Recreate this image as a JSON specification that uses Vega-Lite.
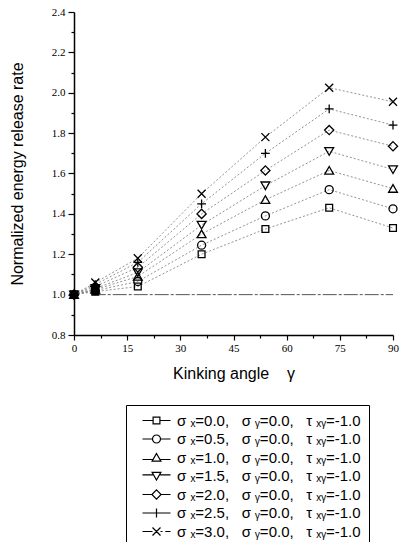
{
  "$schema": "https://vega.github.io/schema/vega-lite/v6.json",
  "width": 319,
  "height": 323,
  "autosize": {"type": "none"},
  "padding": {"left": 74, "top": 12, "right": 8, "bottom": 207},
  "background": "white",
  "config": {
    "view": {"stroke": null},
    "axis": {
      "domainColor": "black", "domainWidth": 1.5,
      "tickColor": "black", "tickWidth": 1.2,
      "labelColor": "black", "titleColor": "black", "grid": false,
      "labelFont": "Liberation Serif", "labelFontSize": 11,
      "titleFont": "Liberation Sans", "titleFontSize": 16, "titleFontWeight": "normal"
    }
  },
  "datasets": {
    "ref": [{"g": 5, "g2": 90, "v": 1.0}],
    "pts": [
      {"g": 0, "v": 1.0, "s": "σ\u00a0ₓ=0.0,\u00a0\u00a0\u00a0σ\u00a0ᵧ=0.0,\u00a0\u00a0\u00a0τ\u00a0ₓᵧ=-1.0"},
      {"g": 6, "v": 1.015, "s": "σ\u00a0ₓ=0.0,\u00a0\u00a0\u00a0σ\u00a0ᵧ=0.0,\u00a0\u00a0\u00a0τ\u00a0ₓᵧ=-1.0"},
      {"g": 18, "v": 1.04, "s": "σ\u00a0ₓ=0.0,\u00a0\u00a0\u00a0σ\u00a0ᵧ=0.0,\u00a0\u00a0\u00a0τ\u00a0ₓᵧ=-1.0"},
      {"g": 36, "v": 1.2, "s": "σ\u00a0ₓ=0.0,\u00a0\u00a0\u00a0σ\u00a0ᵧ=0.0,\u00a0\u00a0\u00a0τ\u00a0ₓᵧ=-1.0"},
      {"g": 54, "v": 1.325, "s": "σ\u00a0ₓ=0.0,\u00a0\u00a0\u00a0σ\u00a0ᵧ=0.0,\u00a0\u00a0\u00a0τ\u00a0ₓᵧ=-1.0"},
      {"g": 72, "v": 1.43, "s": "σ\u00a0ₓ=0.0,\u00a0\u00a0\u00a0σ\u00a0ᵧ=0.0,\u00a0\u00a0\u00a0τ\u00a0ₓᵧ=-1.0"},
      {"g": 90, "v": 1.33, "s": "σ\u00a0ₓ=0.0,\u00a0\u00a0\u00a0σ\u00a0ᵧ=0.0,\u00a0\u00a0\u00a0τ\u00a0ₓᵧ=-1.0"},
      {"g": 0, "v": 1.0, "s": "σ\u00a0ₓ=0.5,\u00a0\u00a0\u00a0σ\u00a0ᵧ=0.0,\u00a0\u00a0\u00a0τ\u00a0ₓᵧ=-1.0"},
      {"g": 6, "v": 1.02, "s": "σ\u00a0ₓ=0.5,\u00a0\u00a0\u00a0σ\u00a0ᵧ=0.0,\u00a0\u00a0\u00a0τ\u00a0ₓᵧ=-1.0"},
      {"g": 18, "v": 1.065, "s": "σ\u00a0ₓ=0.5,\u00a0\u00a0\u00a0σ\u00a0ᵧ=0.0,\u00a0\u00a0\u00a0τ\u00a0ₓᵧ=-1.0"},
      {"g": 36, "v": 1.245, "s": "σ\u00a0ₓ=0.5,\u00a0\u00a0\u00a0σ\u00a0ᵧ=0.0,\u00a0\u00a0\u00a0τ\u00a0ₓᵧ=-1.0"},
      {"g": 54, "v": 1.39, "s": "σ\u00a0ₓ=0.5,\u00a0\u00a0\u00a0σ\u00a0ᵧ=0.0,\u00a0\u00a0\u00a0τ\u00a0ₓᵧ=-1.0"},
      {"g": 72, "v": 1.52, "s": "σ\u00a0ₓ=0.5,\u00a0\u00a0\u00a0σ\u00a0ᵧ=0.0,\u00a0\u00a0\u00a0τ\u00a0ₓᵧ=-1.0"},
      {"g": 90, "v": 1.425, "s": "σ\u00a0ₓ=0.5,\u00a0\u00a0\u00a0σ\u00a0ᵧ=0.0,\u00a0\u00a0\u00a0τ\u00a0ₓᵧ=-1.0"},
      {"g": 0, "v": 1.0, "s": "σ\u00a0ₓ=1.0,\u00a0\u00a0\u00a0σ\u00a0ᵧ=0.0,\u00a0\u00a0\u00a0τ\u00a0ₓᵧ=-1.0"},
      {"g": 6, "v": 1.025, "s": "σ\u00a0ₓ=1.0,\u00a0\u00a0\u00a0σ\u00a0ᵧ=0.0,\u00a0\u00a0\u00a0τ\u00a0ₓᵧ=-1.0"},
      {"g": 18, "v": 1.09, "s": "σ\u00a0ₓ=1.0,\u00a0\u00a0\u00a0σ\u00a0ᵧ=0.0,\u00a0\u00a0\u00a0τ\u00a0ₓᵧ=-1.0"},
      {"g": 36, "v": 1.3, "s": "σ\u00a0ₓ=1.0,\u00a0\u00a0\u00a0σ\u00a0ᵧ=0.0,\u00a0\u00a0\u00a0τ\u00a0ₓᵧ=-1.0"},
      {"g": 54, "v": 1.47, "s": "σ\u00a0ₓ=1.0,\u00a0\u00a0\u00a0σ\u00a0ᵧ=0.0,\u00a0\u00a0\u00a0τ\u00a0ₓᵧ=-1.0"},
      {"g": 72, "v": 1.615, "s": "σ\u00a0ₓ=1.0,\u00a0\u00a0\u00a0σ\u00a0ᵧ=0.0,\u00a0\u00a0\u00a0τ\u00a0ₓᵧ=-1.0"},
      {"g": 90, "v": 1.525, "s": "σ\u00a0ₓ=1.0,\u00a0\u00a0\u00a0σ\u00a0ᵧ=0.0,\u00a0\u00a0\u00a0τ\u00a0ₓᵧ=-1.0"},
      {"g": 0, "v": 1.0, "s": "σ\u00a0ₓ=1.5,\u00a0\u00a0\u00a0σ\u00a0ᵧ=0.0,\u00a0\u00a0\u00a0τ\u00a0ₓᵧ=-1.0"},
      {"g": 6, "v": 1.03, "s": "σ\u00a0ₓ=1.5,\u00a0\u00a0\u00a0σ\u00a0ᵧ=0.0,\u00a0\u00a0\u00a0τ\u00a0ₓᵧ=-1.0"},
      {"g": 18, "v": 1.11, "s": "σ\u00a0ₓ=1.5,\u00a0\u00a0\u00a0σ\u00a0ᵧ=0.0,\u00a0\u00a0\u00a0τ\u00a0ₓᵧ=-1.0"},
      {"g": 36, "v": 1.345, "s": "σ\u00a0ₓ=1.5,\u00a0\u00a0\u00a0σ\u00a0ᵧ=0.0,\u00a0\u00a0\u00a0τ\u00a0ₓᵧ=-1.0"},
      {"g": 54, "v": 1.54, "s": "σ\u00a0ₓ=1.5,\u00a0\u00a0\u00a0σ\u00a0ᵧ=0.0,\u00a0\u00a0\u00a0τ\u00a0ₓᵧ=-1.0"},
      {"g": 72, "v": 1.71, "s": "σ\u00a0ₓ=1.5,\u00a0\u00a0\u00a0σ\u00a0ᵧ=0.0,\u00a0\u00a0\u00a0τ\u00a0ₓᵧ=-1.0"},
      {"g": 90, "v": 1.62, "s": "σ\u00a0ₓ=1.5,\u00a0\u00a0\u00a0σ\u00a0ᵧ=0.0,\u00a0\u00a0\u00a0τ\u00a0ₓᵧ=-1.0"},
      {"g": 0, "v": 1.0, "s": "σ\u00a0ₓ=2.0,\u00a0\u00a0\u00a0σ\u00a0ᵧ=0.0,\u00a0\u00a0\u00a0τ\u00a0ₓᵧ=-1.0"},
      {"g": 6, "v": 1.04, "s": "σ\u00a0ₓ=2.0,\u00a0\u00a0\u00a0σ\u00a0ᵧ=0.0,\u00a0\u00a0\u00a0τ\u00a0ₓᵧ=-1.0"},
      {"g": 18, "v": 1.135, "s": "σ\u00a0ₓ=2.0,\u00a0\u00a0\u00a0σ\u00a0ᵧ=0.0,\u00a0\u00a0\u00a0τ\u00a0ₓᵧ=-1.0"},
      {"g": 36, "v": 1.4, "s": "σ\u00a0ₓ=2.0,\u00a0\u00a0\u00a0σ\u00a0ᵧ=0.0,\u00a0\u00a0\u00a0τ\u00a0ₓᵧ=-1.0"},
      {"g": 54, "v": 1.615, "s": "σ\u00a0ₓ=2.0,\u00a0\u00a0\u00a0σ\u00a0ᵧ=0.0,\u00a0\u00a0\u00a0τ\u00a0ₓᵧ=-1.0"},
      {"g": 72, "v": 1.815, "s": "σ\u00a0ₓ=2.0,\u00a0\u00a0\u00a0σ\u00a0ᵧ=0.0,\u00a0\u00a0\u00a0τ\u00a0ₓᵧ=-1.0"},
      {"g": 90, "v": 1.735, "s": "σ\u00a0ₓ=2.0,\u00a0\u00a0\u00a0σ\u00a0ᵧ=0.0,\u00a0\u00a0\u00a0τ\u00a0ₓᵧ=-1.0"},
      {"g": 0, "v": 1.0, "s": "σ\u00a0ₓ=2.5,\u00a0\u00a0\u00a0σ\u00a0ᵧ=0.0,\u00a0\u00a0\u00a0τ\u00a0ₓᵧ=-1.0"},
      {"g": 6, "v": 1.05, "s": "σ\u00a0ₓ=2.5,\u00a0\u00a0\u00a0σ\u00a0ᵧ=0.0,\u00a0\u00a0\u00a0τ\u00a0ₓᵧ=-1.0"},
      {"g": 18, "v": 1.16, "s": "σ\u00a0ₓ=2.5,\u00a0\u00a0\u00a0σ\u00a0ᵧ=0.0,\u00a0\u00a0\u00a0τ\u00a0ₓᵧ=-1.0"},
      {"g": 36, "v": 1.45, "s": "σ\u00a0ₓ=2.5,\u00a0\u00a0\u00a0σ\u00a0ᵧ=0.0,\u00a0\u00a0\u00a0τ\u00a0ₓᵧ=-1.0"},
      {"g": 54, "v": 1.7, "s": "σ\u00a0ₓ=2.5,\u00a0\u00a0\u00a0σ\u00a0ᵧ=0.0,\u00a0\u00a0\u00a0τ\u00a0ₓᵧ=-1.0"},
      {"g": 72, "v": 1.92, "s": "σ\u00a0ₓ=2.5,\u00a0\u00a0\u00a0σ\u00a0ᵧ=0.0,\u00a0\u00a0\u00a0τ\u00a0ₓᵧ=-1.0"},
      {"g": 90, "v": 1.84, "s": "σ\u00a0ₓ=2.5,\u00a0\u00a0\u00a0σ\u00a0ᵧ=0.0,\u00a0\u00a0\u00a0τ\u00a0ₓᵧ=-1.0"},
      {"g": 0, "v": 1.0, "s": "σ\u00a0ₓ=3.0,\u00a0\u00a0\u00a0σ\u00a0ᵧ=0.0,\u00a0\u00a0\u00a0τ\u00a0ₓᵧ=-1.0"},
      {"g": 6, "v": 1.06, "s": "σ\u00a0ₓ=3.0,\u00a0\u00a0\u00a0σ\u00a0ᵧ=0.0,\u00a0\u00a0\u00a0τ\u00a0ₓᵧ=-1.0"},
      {"g": 18, "v": 1.18, "s": "σ\u00a0ₓ=3.0,\u00a0\u00a0\u00a0σ\u00a0ᵧ=0.0,\u00a0\u00a0\u00a0τ\u00a0ₓᵧ=-1.0"},
      {"g": 36, "v": 1.5, "s": "σ\u00a0ₓ=3.0,\u00a0\u00a0\u00a0σ\u00a0ᵧ=0.0,\u00a0\u00a0\u00a0τ\u00a0ₓᵧ=-1.0"},
      {"g": 54, "v": 1.78, "s": "σ\u00a0ₓ=3.0,\u00a0\u00a0\u00a0σ\u00a0ᵧ=0.0,\u00a0\u00a0\u00a0τ\u00a0ₓᵧ=-1.0"},
      {"g": 72, "v": 2.025, "s": "σ\u00a0ₓ=3.0,\u00a0\u00a0\u00a0σ\u00a0ᵧ=0.0,\u00a0\u00a0\u00a0τ\u00a0ₓᵧ=-1.0"},
      {"g": 90, "v": 1.955, "s": "σ\u00a0ₓ=3.0,\u00a0\u00a0\u00a0σ\u00a0ᵧ=0.0,\u00a0\u00a0\u00a0τ\u00a0ₓᵧ=-1.0"}
    ]
  },
  "encoding": {
    "x": {
      "field": "g", "type": "quantitative",
      "scale": {"domain": [0, 90], "nice": false, "zero": false},
      "axis": {
        "title": "Kinking angle\u00a0\u00a0\u00a0\u00a0γ",
        "values": [0, 7.5, 15, 22.5, 30, 37.5, 45, 52.5, 60, 67.5, 75, 82.5, 90],
        "labelExpr": "datum.value % 15 === 0 ? format(datum.value, 'd') : ''",
        "tickSize": {"condition": {"test": "datum.value % 15 === 0", "value": 5}, "value": 3},
        "labelPadding": 2,
        "titlePadding": 12,
        "labelFlush": false
      }
    },
    "y": {
      "field": "v", "type": "quantitative",
      "scale": {"domain": [0.8, 2.4], "nice": false, "zero": false},
      "axis": {
        "title": "Normalized energy release rate",
        "values": [0.8, 0.9, 1.0, 1.1, 1.2, 1.3, 1.4, 1.5, 1.6, 1.7, 1.8, 1.9, 2.0, 2.1, 2.2, 2.3, 2.4],
        "labelExpr": "round(datum.value * 10) % 2 === 0 ? format(datum.value, '.1f') : ''",
        "tickSize": {"condition": {"test": "round(datum.value * 10) % 2 === 0", "value": 6}, "value": 3},
        "labelPadding": 3,
        "titlePadding": 26,
        "labelFlush": false
      }
    }
  },
  "resolve": {"scale": {"shape": "independent"}, "legend": {"shape": "independent"}},
  "layer": [
    {
      "data": {"name": "ref"},
      "mark": {"type": "rule", "color": "#555", "strokeDash": [14, 2, 3, 2], "strokeWidth": 1},
      "encoding": {"x2": {"field": "g2"}}
    },
    {
      "data": {"name": "pts"},
      "mark": {"type": "line", "color": "#777", "strokeDash": [2, 2], "strokeWidth": 0.8},
      "encoding": {"detail": {"field": "s", "type": "nominal"}}
    },
    {
      "data": {"name": "pts"},
      "mark": {"type": "point", "filled": false, "color": "black", "strokeWidth": 1.3, "size": 64, "opacity": 1},
      "encoding": {
        "fill": {"condition": {"test": "datum.g < 10", "value": "black"}, "value": "transparent"},
        "shape": {
          "field": "s", "type": "nominal",
          "scale": {
            "domain": [
              "σ\u00a0ₓ=0.0,\u00a0\u00a0\u00a0σ\u00a0ᵧ=0.0,\u00a0\u00a0\u00a0τ\u00a0ₓᵧ=-1.0",
              "σ\u00a0ₓ=0.5,\u00a0\u00a0\u00a0σ\u00a0ᵧ=0.0,\u00a0\u00a0\u00a0τ\u00a0ₓᵧ=-1.0",
              "σ\u00a0ₓ=1.0,\u00a0\u00a0\u00a0σ\u00a0ᵧ=0.0,\u00a0\u00a0\u00a0τ\u00a0ₓᵧ=-1.0",
              "σ\u00a0ₓ=1.5,\u00a0\u00a0\u00a0σ\u00a0ᵧ=0.0,\u00a0\u00a0\u00a0τ\u00a0ₓᵧ=-1.0",
              "σ\u00a0ₓ=2.0,\u00a0\u00a0\u00a0σ\u00a0ᵧ=0.0,\u00a0\u00a0\u00a0τ\u00a0ₓᵧ=-1.0",
              "σ\u00a0ₓ=2.5,\u00a0\u00a0\u00a0σ\u00a0ᵧ=0.0,\u00a0\u00a0\u00a0τ\u00a0ₓᵧ=-1.0",
              "σ\u00a0ₓ=3.0,\u00a0\u00a0\u00a0σ\u00a0ᵧ=0.0,\u00a0\u00a0\u00a0τ\u00a0ₓᵧ=-1.0"
            ],
            "range": [
              "M-0.85,-0.85H0.85V0.85H-0.85Z",
              "M1,0A1,1 0 1 1 -1,0A1,1 0 1 1 1,0Z",
              "M0,-1L1.1,0.9H-1.1Z",
              "M0,1L1.1,-0.9H-1.1Z",
              "M0,-1.15L1.15,0L0,1.15L-1.15,0Z",
              "M-1.1,0H1.1M0,-1.1V1.1",
              "M-1,-1L1,1M1,-1L-1,1"
            ]
          },
          "legend": null
        }
      }
    },
    {
      "data": {"name": "pts"},
      "transform": [{"filter": "datum.g > 1000"}],
      "mark": {"type": "point", "filled": false, "color": "black", "strokeWidth": 1.2, "size": 64, "opacity": 1},
      "encoding": {
        "shape": {
          "field": "s", "type": "nominal",
          "scale": {
            "domain": [
              "σ\u00a0ₓ=0.0,\u00a0\u00a0\u00a0σ\u00a0ᵧ=0.0,\u00a0\u00a0\u00a0τ\u00a0ₓᵧ=-1.0",
              "σ\u00a0ₓ=0.5,\u00a0\u00a0\u00a0σ\u00a0ᵧ=0.0,\u00a0\u00a0\u00a0τ\u00a0ₓᵧ=-1.0",
              "σ\u00a0ₓ=1.0,\u00a0\u00a0\u00a0σ\u00a0ᵧ=0.0,\u00a0\u00a0\u00a0τ\u00a0ₓᵧ=-1.0",
              "σ\u00a0ₓ=1.5,\u00a0\u00a0\u00a0σ\u00a0ᵧ=0.0,\u00a0\u00a0\u00a0τ\u00a0ₓᵧ=-1.0",
              "σ\u00a0ₓ=2.0,\u00a0\u00a0\u00a0σ\u00a0ᵧ=0.0,\u00a0\u00a0\u00a0τ\u00a0ₓᵧ=-1.0",
              "σ\u00a0ₓ=2.5,\u00a0\u00a0\u00a0σ\u00a0ᵧ=0.0,\u00a0\u00a0\u00a0τ\u00a0ₓᵧ=-1.0",
              "σ\u00a0ₓ=3.0,\u00a0\u00a0\u00a0σ\u00a0ᵧ=0.0,\u00a0\u00a0\u00a0τ\u00a0ₓᵧ=-1.0"
            ],
            "range": [
              "M-3.5,0H-0.85M0.85,0H3.5M-0.85,-0.85H0.85V0.85H-0.85Z",
              "M-3.5,0H-1M1,0H3.5M1,0A1,1 0 1 1 -1,0A1,1 0 1 1 1,0Z",
              "M-3.5,0.5H-0.9M0.9,0.5H3.5M0,-1L1.1,0.9H-1.1Z",
              "M-3.5,-0.3H-0.9M0.9,-0.3H3.5M0,1L1.1,-0.9H-1.1Z",
              "M-3.5,0H-1.15M1.15,0H3.5M0,-1.15L1.15,0L0,1.15L-1.15,0Z",
              "M-3.5,0H3.5M0,-1.1V1.1",
              "M-3.5,0H-1M1,0H1.5M2.2,0H3.5M-1,-1L1,1M1,-1L-1,1"
            ]
          },
          "legend": {
            "title": null,
            "orient": "none",
            "legendX": 52,
            "legendY": 393,
            "strokeColor": "black",
            "padding": 8,
            "offset": 0,
            "symbolSize": 64,
            "symbolOffset": 15,
            "symbolStrokeWidth": 1.2,
            "symbolStrokeColor": "black",
            "labelFont": "Liberation Sans",
            "labelFontSize": 15,
            "labelColor": "black",
            "labelLimit": 0,
            "labelOffset": 13,
            "rowPadding": 2.5
          }
        }
      }
    }
  ]
}
